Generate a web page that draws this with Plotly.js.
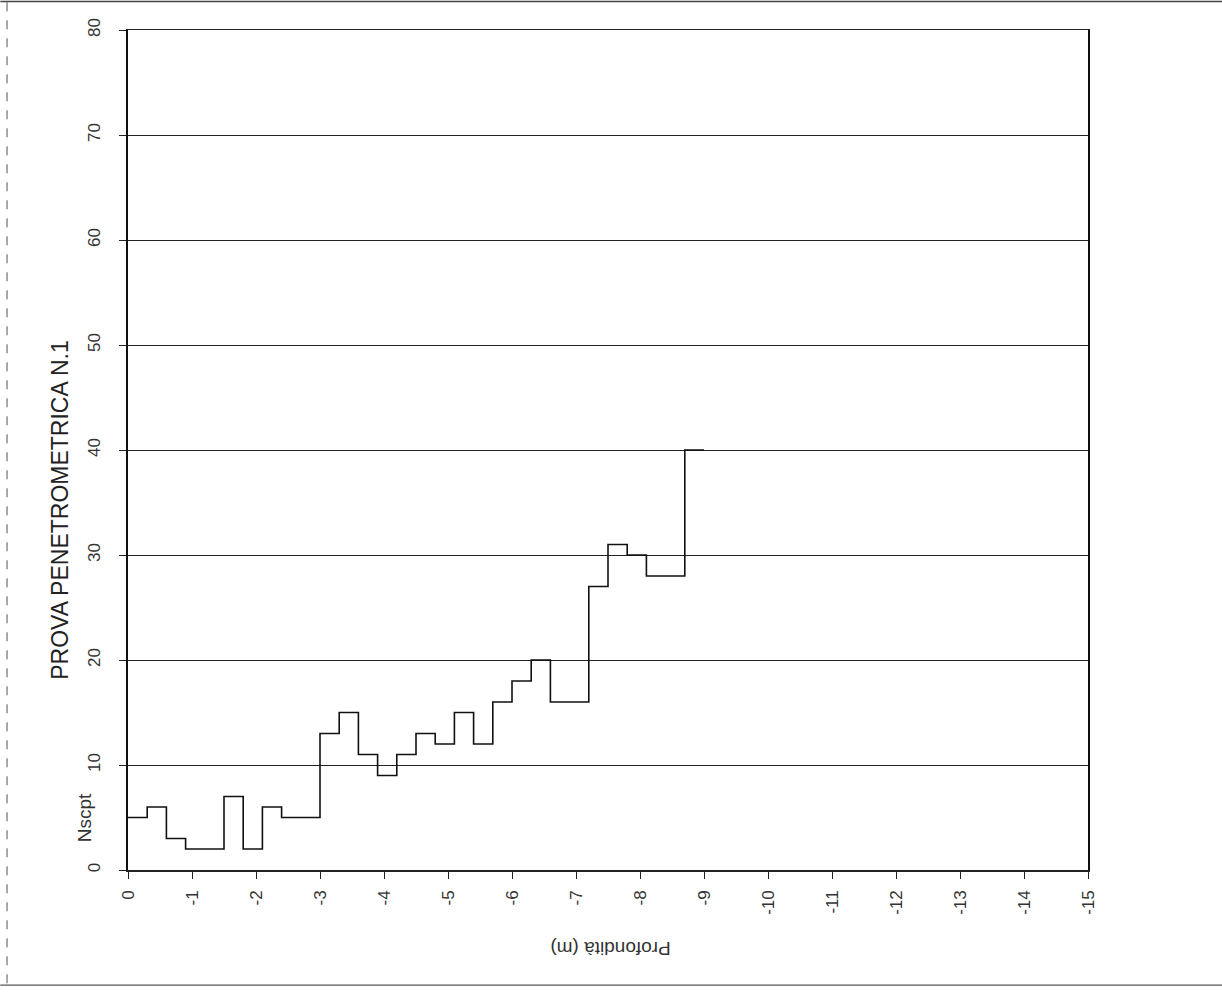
<!DOCTYPE html>
<html>
<head>
<meta charset="utf-8">
<script src="https://cdn.plot.ly/plotly-3.0.1.min.js"></script>
<style>html,body{margin:0;padding:0;background:#fff;}#chart{width:1222px;height:1001px;}</style>
</head>
<body>
<div id="chart"></div>
<script>
// Depth (m, negative downward) at the start of each reading interval
const depth = [0, -0.3, -0.6, -0.9, -1.2, -1.5, -1.8, -2.1, -2.4, -2.7,
               -3.0, -3.3, -3.6, -3.9, -4.2, -4.5, -4.8, -5.1, -5.4, -5.7,
               -6.0, -6.3, -6.6, -6.9, -7.2, -7.5, -7.8, -8.1, -8.4, -8.7, -9.0];
// Nscpt blow counts for each interval (last value repeated to close the step)
const nscpt = [5, 6, 3, 2, 2, 7, 2, 6, 5, 5,
               13, 15, 11, 9, 11, 13, 12, 15, 12, 16,
               18, 20, 16, 16, 27, 31, 30, 28, 28, 40, 40];
const xTickVals = [0, -1, -2, -3, -4, -5, -6, -7, -8, -9, -10, -11, -12, -13, -14, -15];
const xTickText = ['0', '-1', '-2', '-3', '-4', '-5', '-6', '-7', '-8', '-9', '-10', '-11', '-12', '-13', '-14', '-15'];
const yTickVals = [0, 10, 20, 30, 40, 50, 60, 70, 80];
const yTickText = ['0', '10', '20', '30', '40', '50', '60', '70', '80'];
const chartTitle = 'PROVA PENETROMETRICA N.1';
const yTitle = 'Nscpt';
const xTitle = 'Profondità (m)';

const trace = {
  x: depth, y: nscpt, type: 'scatter', mode: 'lines',
  line: {shape: 'hv', color: '#111', width: 1.6},
  hoverinfo: 'x+y', showlegend: false
};

const font = {family: '"Liberation Sans", Arial, sans-serif', color: '#333'};

const layout = {
  width: 1222, height: 1001,
  margin: {l: 128, r: 134, t: 30, b: 131, pad: 0},
  paper_bgcolor: '#fff', plot_bgcolor: '#fff',
  font: font,
  showlegend: false,
  xaxis: {
    range: [0, -15], tickvals: xTickVals, ticktext: xTickText,
    tickangle: -90, ticks: 'outside', ticklen: 7, tickwidth: 1, tickcolor: '#222',
    ticklabelstandoff: 5,
    showgrid: false, zeroline: false,
    showline: true, linecolor: '#222', linewidth: 1.5, mirror: true,
    tickfont: {family: font.family, size: 17, color: '#333'}
  },
  yaxis: {
    range: [0, 80], tickvals: yTickVals, ticktext: yTickText,
    tickangle: -90, ticks: 'outside', ticklen: 7, tickwidth: 1, tickcolor: '#222',
    ticklabelstandoff: 12,
    showgrid: true, gridcolor: '#222', gridwidth: 1, zeroline: false,
    showline: true, linecolor: '#111', linewidth: 2, mirror: true,
    tickfont: {family: font.family, size: 17, color: '#333'}
  },
  annotations: [
    {text: chartTitle, xref: 'paper', yref: 'paper', x: -0.071, y: 0.4286,
     textangle: -90, showarrow: false, xanchor: 'center', yanchor: 'middle',
     font: {family: font.family, size: 23, color: '#222'}},
    {text: yTitle, xref: 'paper', yref: 'paper', x: -0.0445, y: 0.062,
     textangle: -90, showarrow: false, xanchor: 'center', yanchor: 'middle',
     font: {family: font.family, size: 19, color: '#333'}},
    {text: xTitle, xref: 'paper', yref: 'paper', x: 0.503, y: -0.0926,
     textangle: 180, showarrow: false, xanchor: 'center', yanchor: 'middle',
     font: {family: font.family, size: 19, color: '#333'}}
  ],
  shapes: [
    {type: 'line', xref: 'paper', yref: 'paper', x0: -0.126, x1: -0.126, y0: 1.033, y1: -0.137,
     line: {color: '#555', width: 1, dash: 'dash'}},
    {type: 'line', xref: 'paper', yref: 'paper', x0: -0.133, x1: 1.14, y0: 1.034, y1: 1.034,
     line: {color: '#444', width: 1.5}},
    {type: 'line', xref: 'paper', yref: 'paper', x0: -0.133, x1: 1.14, y0: -0.137, y1: -0.137,
     line: {color: '#555', width: 1.2}}
  ]
};

Plotly.newPlot('chart', [trace], layout, {displayModeBar: false, staticPlot: true});
</script>
</body>
</html>
